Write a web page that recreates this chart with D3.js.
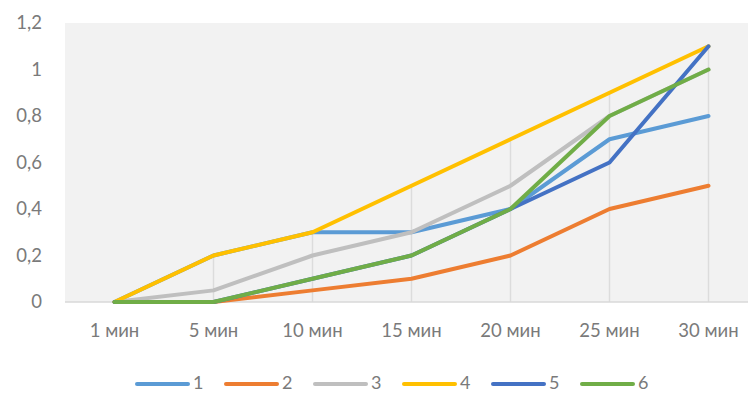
<!DOCTYPE html>
<html>
<head>
<meta charset="utf-8">
<script src="https://cdn.jsdelivr.net/npm/d3@7"></script>
<style>
  html, body { margin: 0; padding: 0; background: #fff; }
  svg { display: block; }
  text { font-family: Lato, "Open Sans", sans-serif; fill: #7a7a7a; }
</style>
</head>
<body>
<svg id="chart" width="748" height="394"></svg>
<script>
const categories = ["1 мин", "5 мин", "10 мин", "15 мин", "20 мин", "25 мин", "30 мин"];
const seriesNames = ["1", "2", "3", "4", "5", "6"];
const seriesColors = ["#5b9bd5", "#ed7d31", "#bfbfbf", "#ffc000", "#4472c4", "#70ad47"];
const s1 = [0, 0.2, 0.3, 0.3, 0.4, 0.7, 0.8];
const s2 = [0, 0, 0.05, 0.1, 0.2, 0.4, 0.5];
const s3 = [0, 0.05, 0.2, 0.3, 0.5, 0.8, 1.0];
const s4 = [0, 0.2, 0.3, 0.5, 0.7, 0.9, 1.1];
const s5 = [0, 0, 0.1, 0.2, 0.4, 0.6, 1.1];
const s6 = [0, 0, 0.1, 0.2, 0.4, 0.8, 1.0];
const yTicks = [0, 0.2, 0.4, 0.6, 0.8, 1, 1.2];

const seriesValues = [s1, s2, s3, s4, s5, s6];

const svg = d3.select("#chart");
const W = 748, H = 394;
const plot = { left: 65, top: 23, bottom: 302, right: 758 };
const fontSize = 18.5;

const x = d3.scaleBand().domain(categories).range([plot.left, plot.right]);
const y = d3.scaleLinear().domain([0, 1.2]).range([plot.bottom, plot.top]);
const cx = c => x(c) + x.bandwidth() / 2;

// plot area background
svg.append("rect")
  .attr("x", plot.left).attr("y", plot.top)
  .attr("width", W - plot.left).attr("height", plot.bottom - plot.top)
  .attr("fill", "#f2f2f2");

// drop lines: from the highest series value at each category down to the axis
const maxPerCategory = categories.map((c, i) => d3.max(seriesValues, s => s[i]));
svg.append("g").selectAll("line").data(categories).join("line")
  .attr("x1", cx).attr("x2", cx)
  .attr("y1", (c, i) => y(maxPerCategory[i])).attr("y2", plot.bottom)
  .attr("stroke", "#dcdcdc").attr("stroke-width", 1.5);

// baseline
svg.append("line")
  .attr("x1", plot.left).attr("x2", W)
  .attr("y1", y(0)).attr("y2", y(0))
  .attr("stroke", "#d9d9d9").attr("stroke-width", 1.5);

// y axis labels
const fmt = v => String(v).replace(".", ",");
svg.append("g").selectAll("text").data(yTicks).join("text")
  .attr("x", 42).attr("y", d => y(d))
  .attr("dy", "0.35em")
  .attr("text-anchor", "end")
  .attr("font-size", fontSize)
  .text(fmt);

// x axis labels
svg.append("g").selectAll("text").data(categories).join("text")
  .attr("x", cx).attr("y", 331)
  .attr("dy", "0.35em")
  .attr("text-anchor", "middle")
  .attr("font-size", fontSize)
  .text(d => d);

// series lines
const line = d3.line()
  .x((d, i) => cx(categories[i]))
  .y(d => y(d));

svg.append("g").selectAll("path").data(seriesValues).join("path")
  .attr("d", d => line(d))
  .attr("fill", "none")
  .attr("stroke", (d, i) => seriesColors[i])
  .attr("stroke-width", 4)
  .attr("stroke-linecap", "round")
  .attr("stroke-linejoin", "round");

// legend
const legend = svg.append("g").selectAll("g").data(seriesNames).join("g")
  .attr("transform", (d, i) => `translate(${137 + i * 89}, 384)`);
legend.append("line")
  .attr("x1", 0).attr("x2", 51).attr("y1", 0).attr("y2", 0)
  .attr("stroke", (d, i) => seriesColors[i])
  .attr("stroke-width", 4)
  .attr("stroke-linecap", "round");
legend.append("text")
  .attr("x", 56).attr("y", -1).attr("dy", "0.35em")
  .attr("font-size", 18)
  .text(d => d);
</script>
</body>
</html>
